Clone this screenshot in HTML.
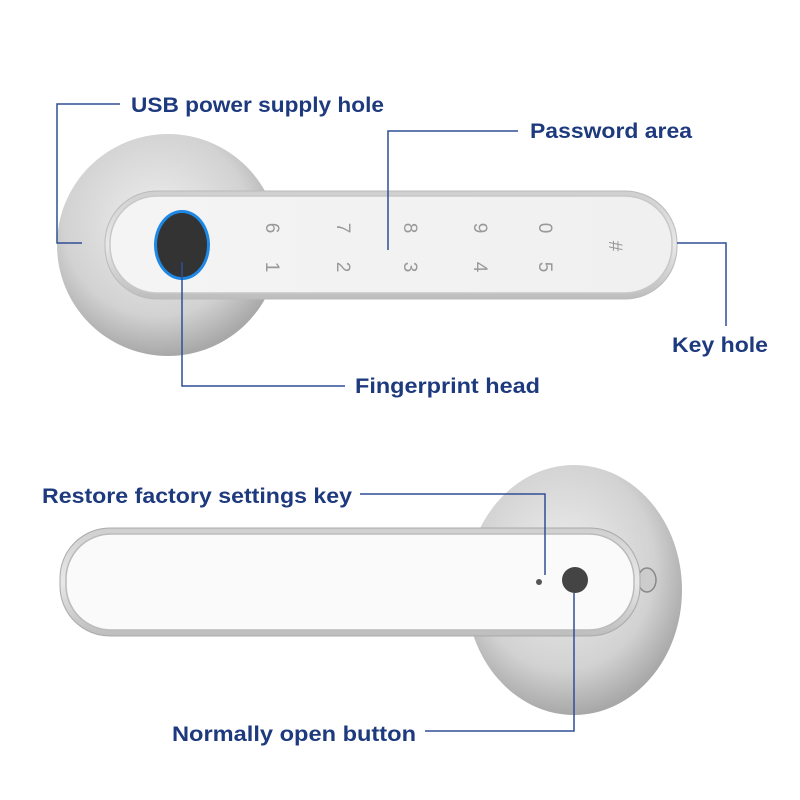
<!DOCTYPE html>
<html><head><meta charset="utf-8"><style>
html,body{margin:0;padding:0;background:#fff}
svg{display:block}
text.l{font-family:"Liberation Sans",sans-serif;font-weight:bold;font-size:21px;fill:#1e3a7e}
text.d{font-family:"Liberation Sans",sans-serif;font-size:19px;fill:#999}
</style></head><body>
<svg width="800" height="800" viewBox="0 0 800 800" xmlns="http://www.w3.org/2000/svg">
<defs>
<radialGradient id="ros" cx="45%" cy="40%" r="60%">
<stop offset="0" stop-color="#eeeeee"/><stop offset="0.7" stop-color="#d2d2d2"/><stop offset="1" stop-color="#a8a8a8"/>
</radialGradient>
<linearGradient id="hd" x1="0" y1="0" x2="0" y2="1">
<stop offset="0" stop-color="#cfcfcf"/><stop offset="0.5" stop-color="#e8e8e8"/><stop offset="1" stop-color="#bdbdbd"/>
</linearGradient>
<linearGradient id="pn" x1="0" y1="0" x2="1" y2="0">
<stop offset="0" stop-color="#f4f4f4"/><stop offset="1" stop-color="#f0f0f0"/>
</linearGradient>
</defs>
<ellipse cx="168" cy="245" rx="111" ry="111" fill="url(#ros)"/>
<rect x="105" y="191" width="572" height="108" rx="52" fill="url(#hd)" stroke="#bbb" stroke-width="1"/>
<rect x="110" y="196" width="562" height="97" rx="47" fill="url(#pn)" stroke="#c8c8c8" stroke-width="1.5"/>
<ellipse cx="182" cy="245" rx="28" ry="35" fill="#1e88e5"/>
<ellipse cx="182" cy="245" rx="25" ry="32" fill="#333"/>
<text class="d" transform="translate(272,228) rotate(90)" text-anchor="middle" dy="6">6</text>
<text class="d" transform="translate(343,228) rotate(90)" text-anchor="middle" dy="6">7</text>
<text class="d" transform="translate(410,228) rotate(90)" text-anchor="middle" dy="6">8</text>
<text class="d" transform="translate(480,228) rotate(90)" text-anchor="middle" dy="6">9</text>
<text class="d" transform="translate(545,228) rotate(90)" text-anchor="middle" dy="6">0</text>
<text class="d" transform="translate(272,267) rotate(90)" text-anchor="middle" dy="6">1</text>
<text class="d" transform="translate(343,267) rotate(90)" text-anchor="middle" dy="6">2</text>
<text class="d" transform="translate(410,267) rotate(90)" text-anchor="middle" dy="6">3</text>
<text class="d" transform="translate(480,267) rotate(90)" text-anchor="middle" dy="6">4</text>
<text class="d" transform="translate(545,267) rotate(90)" text-anchor="middle" dy="6">5</text>
<text class="d" transform="translate(615,246) rotate(90)" text-anchor="middle" dy="6">#</text>
<g stroke="#2f4f95" stroke-width="1.5" fill="none">
<polyline points="120,104 57,104 57,243 82,243"/>
<polyline points="518,131 388,131 388,250"/>
<polyline points="677,243 726,243 726,326"/>
<polyline points="182,262 182,386 345,386"/>
</g>
<text class="l" x="131" y="112" textLength="253" lengthAdjust="spacingAndGlyphs">USB power supply hole</text>
<text class="l" x="530" y="138" textLength="162" lengthAdjust="spacingAndGlyphs">Password area</text>
<text class="l" x="672" y="352" textLength="96" lengthAdjust="spacingAndGlyphs">Key hole</text>
<text class="l" x="355" y="393" textLength="185" lengthAdjust="spacingAndGlyphs">Fingerprint head</text>
<ellipse cx="574" cy="590" rx="108" ry="125" fill="url(#ros)"/>
<ellipse cx="647" cy="580" rx="9" ry="12" fill="#ccc" stroke="#888" stroke-width="1.5"/>
<rect x="60" y="528" width="580" height="108" rx="50" fill="url(#hd)" stroke="#aaa" stroke-width="1"/>
<rect x="66" y="534" width="568" height="96" rx="45" fill="#fafafa" stroke="#bbb" stroke-width="1.5"/>
<circle cx="539" cy="582" r="3" fill="#555"/>
<circle cx="575" cy="580" r="13" fill="#444"/>
<g stroke="#2f4f95" stroke-width="1.5" fill="none">
<polyline points="360,494 545,494 545,575"/>
<polyline points="574,593 574,731 425,731"/>
</g>
<text class="l" x="42" y="503" textLength="310" lengthAdjust="spacingAndGlyphs">Restore factory settings key</text>
<text class="l" x="172" y="741" textLength="244" lengthAdjust="spacingAndGlyphs">Normally open button</text>
</svg>
</body></html>
